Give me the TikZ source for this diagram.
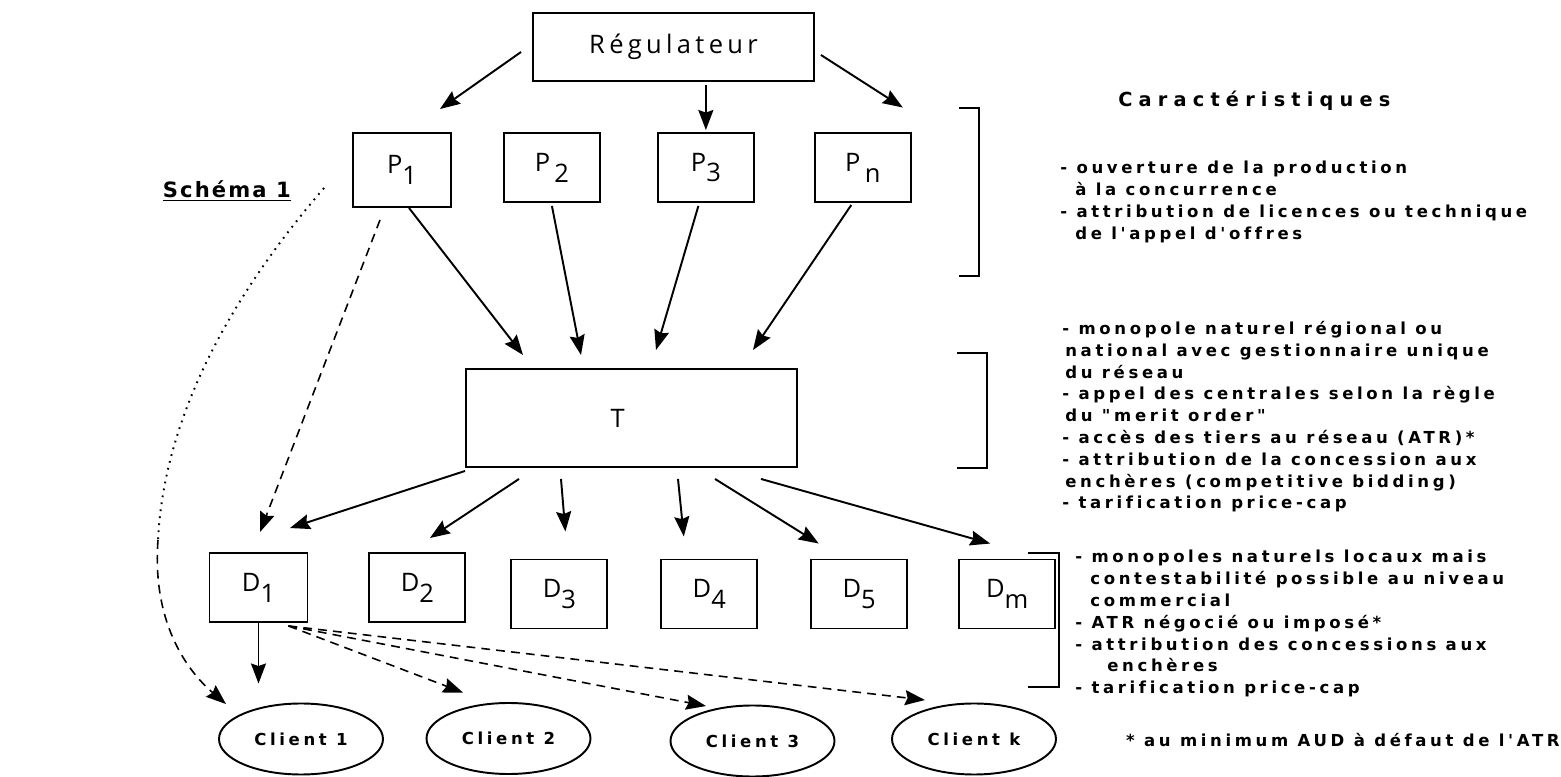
\documentclass[tikz,border=0pt]{standalone}
\usepackage{fontspec}
\setsansfont{Open Sans}
\newfontfamily\labelfont{Open Sans}[LetterSpace=17]
\newfontfamily\notefont{DejaVu Sans}[LetterSpace=22, Ligatures=NoCommon]
\newfontfamily\headfont{DejaVu Sans}[LetterSpace=32, Ligatures=NoCommon]
\newfontfamily\schemafont{DejaVu Sans}[LetterSpace=10]
\usetikzlibrary{shapes.geometric, arrows.meta, positioning}
\newcommand{\idx}[2]{#1\raisebox{-0.8ex}{#2}}
\tikzset{
    actor/.style={
        rectangle, draw=black, line width=1.1pt,
        minimum width=1.92cm, minimum height=1.38cm,
        fill=white, font=\labelfont\fontsize{14.5}{16}\selectfont
    },
    client/.style={
        ellipse, draw=black, line width=1.1pt,
        minimum width=3.28cm, minimum height=1.42cm, inner sep=0pt,
        font=\notefont\bfseries\fontsize{9.4}{10}\selectfont
    },
    wire/.style={draw=black, line width=1.1pt, -{Stealth[length=0.40cm, width=0.30cm, inset=0.05cm]}},
    dashwire/.style={wire, line width=0.9pt, dash pattern=on 5pt off 3.5pt},
    dotwire/.style={draw=black, line width=1.1pt, dash pattern=on 1pt off 3pt},
    bracket/.style={draw=black, line width=0.9pt},
    note/.style={
        font=\notefont\bfseries\fontsize{9.4}{12.4}\selectfont,
        align=left, anchor=north west, inner sep=0pt
    },
    heading/.style={font=\headfont\bfseries\fontsize{11}{13}\selectfont, anchor=base west, inner sep=0pt}
}

\begin{document}
\begin{tikzpicture}
\useasboundingbox (0,0) rectangle (31.22,-15.54);

% Regulator
\node[actor, minimum width=5.62cm, minimum height=1.36cm] (reg) at (13.47,-0.94) {Régulateur};

% Producers
\node[actor, minimum width=1.96cm, minimum height=1.48cm] (p1) at (8.04,-3.40) {\idx{P}{1}};
\node[actor, right=1.02cm of p1, yshift=0.05cm] (p2) {\idx{P}{\,2}};
\node[actor, right=1.12cm of p2] (p3) {\idx{P}{3}};
\node[actor, right=1.18cm of p3] (pn) {\idx{P}{\,n}};

\draw[wire] ([xshift=-0.22cm, yshift=-0.1cm]reg.west) -- ([xshift=0.76cm, yshift=0.46cm]p1.north);
\draw[wire, shorten <=0.06cm, shorten >=0.04cm] (reg.south -| p3.north) -- (p3.north);
\draw[wire] ([xshift=0.12cm, yshift=-0.16cm]reg.east) -- ([xshift=0.80cm, yshift=0.49cm]pn.north);

% Transport network
\node[actor, minimum width=6.62cm, minimum height=1.96cm] (t) at (12.63,-8.36) {T\hspace*{0.55cm}};

\draw[wire] ([xshift=0.14cm]p1.south) -- ([xshift=-2.17cm, yshift=0.26cm]t.north);
\draw[wire] ([yshift=-0.06cm]p2.south) -- ([xshift=-1.01cm, yshift=0.26cm]t.north);
\draw[wire] ([xshift=-0.15cm, yshift=-0.06cm]p3.south) -- ([xshift=0.49cm, yshift=0.36cm]t.north);
\draw[wire] ([xshift=-0.23cm, yshift=-0.04cm]pn.south) -- ([xshift=2.43cm, yshift=0.36cm]t.north);

% Distributors
\node[actor, minimum width=1.96cm] (d1) at (5.17,-11.75) {\idx{D}{1}};
\node[actor, right=1.2cm of d1] (d2) {\idx{D}{2}};
\node[actor, right=0.88cm of d2, yshift=-0.13cm] (d3) {\idx{D}{3}};
\node[actor, right=1.04cm of d3] (d4) {\idx{D}{4}};
\node[actor, right=1.04cm of d4] (d5) {\idx{D}{5}};
\node[actor, right=1.0cm of d5] (dm) {\idx{D}{m}};

\draw[wire] ([yshift=-0.06cm]t.south west) -- ([xshift=0.63cm, yshift=0.48cm]d1.north);
\draw[wire] ([xshift=-2.25cm, yshift=-0.22cm]t.south) -- ([xshift=0.25cm, yshift=0.28cm]d2.north);
\draw[wire] ([xshift=-1.41cm, yshift=-0.22cm]t.south) -- ([xshift=0.12cm, yshift=0.54cm]d3.north);
\draw[wire] ([xshift=0.93cm, yshift=-0.22cm]t.south) -- ([xshift=-0.51cm, yshift=0.44cm]d4.north);
\draw[wire] ([xshift=1.67cm, yshift=-0.22cm]t.south) -- ([xshift=-0.81cm, yshift=0.30cm]d5.north);
\draw[wire] ([xshift=2.59cm, yshift=-0.22cm]t.south) -- ([xshift=-0.34cm, yshift=0.30cm]dm.north);

% Clients
\node[client] (c1) at (6.02,-14.78) {Client 1};
\node[client] (c2) at (10.17,-14.77) {Client 2};
\node[client] (c3) at (15.05,-14.82) {Client 3};
\node[client] (ck) at (19.48,-14.78) {Client k};

% Direct supply P1 -> D1 and P1 -> Client 1
\draw[dashwire] ([xshift=-0.44cm, yshift=-0.24cm]p1.south) -- ([xshift=0.03cm, yshift=0.40cm]d1.north);
\coordinate (bend) at (3.16,-10.80);
\draw[dotwire] ([xshift=-0.56cm, yshift=-0.36cm]p1.west) .. controls +(-1.5,-1.74) and +(0.14,2.8) .. (bend);
\draw[dashwire] (bend) .. controls +(-0.12,-1.6) and +(-0.82,0.70) .. ([xshift=-1.5cm, yshift=-0.03cm]c1.north);

\draw[wire, shorten >=0.38cm] (d1.south) -- (d1.south |- c1.north);
\draw[dashwire] ([xshift=-0.40cm, yshift=-0.06cm]d1.south east) -- ([xshift=-0.91cm, yshift=0.19cm]c2.north);
\draw[dashwire] ([xshift=-0.40cm, yshift=-0.06cm]d1.south east) -- ([xshift=-0.93cm, yshift=-0.03cm]c3.north);
\draw[dashwire] ([xshift=-0.40cm, yshift=-0.06cm]d1.south east) -- ([xshift=-0.98cm, yshift=0.05cm]ck.north);

% Brackets
\draw[bracket] (19.18,-2.16) -- (19.58,-2.16) -- (19.58,-5.52) -- (19.18,-5.52);
\draw[bracket] (19.14,-7.06) -- (19.74,-7.06) -- (19.74,-9.36) -- (19.14,-9.36);
\draw[bracket] (20.56,-11.06) -- (21.18,-11.06) -- (21.18,-13.74) -- (20.56,-13.74);

% Texts
\node[heading, font=\schemafont\bfseries\fontsize{12}{14}\selectfont] (schema) at (3.25,-3.96) {\underline{Schéma 1}};
\node[heading] (title) at (22.36,-2.14) {Caractéristiques};

\node[note] (notep) at (21.2,-3.22) {- ouverture de la production\\
\hspace*{0.3cm}à la concurrence\\
- attribution de licences ou technique\\
\hspace*{0.3cm}de l'appel d'offres};

\node[note] (notet) at (21.24,-6.42) {- monopole naturel régional ou\\
\hspace*{0.06cm}national avec gestionnaire unique\\
\hspace*{0.06cm}du réseau\\
- appel des centrales selon la règle\\
\hspace*{0.06cm}du "merit order"\\
- accès des tiers au réseau (ATR)*\\
- attribution de la concession aux\\
\hspace*{0.06cm}enchères (competitive bidding)\\
- tarification price-cap};

\node[note] (noted) at (21.5,-11.0) {- monopoles naturels locaux mais\\
\hspace*{0.3cm}contestabilité possible au niveau\\
\hspace*{0.3cm}commercial\\
- ATR négocié ou imposé*\\
- attribution des concessions aux\\
\hspace*{0.64cm}enchères\\
- tarification price-cap};

\node[note, anchor=base east] (star) at (31.2,-14.94) {* au minimum AUD à défaut de l'ATR};

\end{tikzpicture}
\end{document}
